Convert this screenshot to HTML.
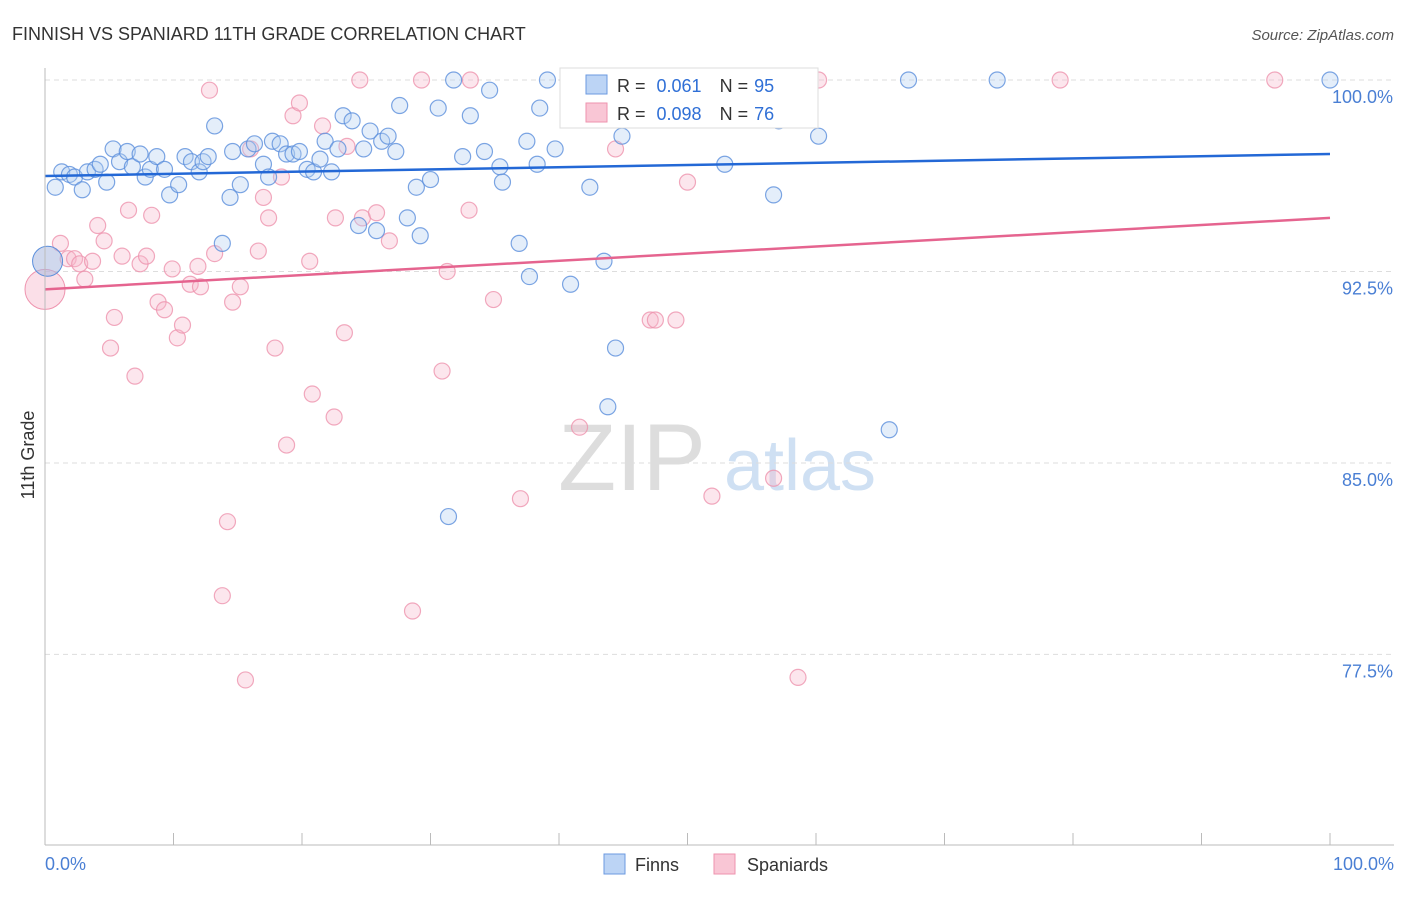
<!DOCTYPE html>
<html><head><meta charset="utf-8"><style>
body{margin:0;background:#fff;font-family:"Liberation Sans",sans-serif}
svg text{font-family:"Liberation Sans",sans-serif}
</style></head><body>
<svg width="1406" height="892" id="c">
<text x="12" y="40" font-size="18" fill="#333">FINNISH VS SPANIARD 11TH GRADE CORRELATION CHART</text>
<text x="1394" y="40" font-size="15" fill="#555" text-anchor="end" font-style="italic">Source: ZipAtlas.com</text>
<text x="632" y="490" font-size="95" fill="#ddd" font-family="Liberation Serif" text-anchor="middle">ZIP</text>
<text x="800" y="490" font-size="72" fill="#cfe0f3" text-anchor="middle">atlas</text>
<text transform="translate(34,455) rotate(-90)" font-size="18" fill="#333" text-anchor="middle">11th Grade</text>
<g id="grid"></g><g id="pts"></g><g id="lines"></g>
<line x1="45" y1="68" x2="45" y2="845" stroke="#bbb"/>
<line x1="45" y1="845" x2="1394" y2="845" stroke="#bbb"/>
<text x="45" y="870" font-size="18" fill="#4a7fd4">0.0%</text>
<text x="1394" y="870" font-size="18" fill="#4a7fd4" text-anchor="end">100.0%</text>
<g>
<rect x="560" y="68" width="258" height="60" fill="#fff" stroke="#ddd"/>
<rect x="586" y="75" width="21" height="19" fill="#bcd4f5" stroke="#6b9ae0"/>
<rect x="586" y="103" width="21" height="19" fill="#f9c6d5" stroke="#ee93ae"/>
<text x="617" y="92" font-size="18" fill="#333">R = <tspan fill="#2f6fd6" dx="6">0.061</tspan><tspan dx="18" fill="#333">N =</tspan><tspan dx="6" fill="#2f6fd6">95</tspan></text>
<text x="617" y="120" font-size="18" fill="#333">R = <tspan fill="#2f6fd6" dx="6">0.098</tspan><tspan dx="18" fill="#333">N =</tspan><tspan dx="6" fill="#2f6fd6">76</tspan></text>
</g>
<g><rect x="604" y="854" width="21" height="20" fill="#bcd4f5" stroke="#6b9ae0"/><text x="635" y="871" font-size="18" fill="#333">Finns</text></g>
<g><rect x="714" y="854" width="21" height="20" fill="#f9c6d5" stroke="#ee93ae"/><text x="747" y="871" font-size="18" fill="#333">Spaniards</text></g>
</svg>
<script>
const yTicks=[100,92.5,85,77.5];
const yTickLabels=["100.0%","92.5%","85.0%","77.5%"];
const xTicks=[0,10,20,30,40,50,60,70,80,90,100];
const finnsX=[0.8,1.3,1.9,2.3,2.9,3.3,3.9,4.3,4.8,5.3,5.8,6.4,6.8,7.4,7.8,8.2,8.7,9.3,9.7,10.4,10.9,11.4,12.0,12.3,12.7,13.2,13.8,14.4,14.6,15.2,15.8,16.3,17.0,17.4,17.7,18.3,18.8,19.3,19.8,20.4,20.9,21.4,21.8,22.3,22.8,23.2,23.9,24.4,24.8,25.3,25.8,26.2,26.7,27.3,27.6,28.2,28.9,29.2,30.0,30.6,31.8,32.5,33.1,34.2,34.6,35.4,35.6,36.9,37.5,37.7,38.5,38.3,39.1,39.7,40.9,42.4,43.5,44.4,43.8,44.9,31.4,51.8,52.9,55.8,56.7,57.1,59.0,60.2,65.7,67.2,74.1,100,40.7];
const finnsY=[95.8,96.4,96.3,96.2,95.7,96.4,96.5,96.7,96.0,97.3,96.8,97.2,96.6,97.1,96.2,96.5,97.0,96.5,95.5,95.9,97.0,96.8,96.4,96.8,97.0,98.2,93.6,95.4,97.2,95.9,97.3,97.5,96.7,96.2,97.6,97.5,97.1,97.1,97.2,96.5,96.4,96.9,97.6,96.4,97.3,98.6,98.4,94.3,97.3,98.0,94.1,97.6,97.8,97.2,99.0,94.6,95.8,93.9,96.1,98.9,100,97.0,98.6,97.2,99.6,96.6,96.0,93.6,97.6,92.3,98.9,96.7,100,97.3,92.0,95.8,92.9,89.5,87.2,97.8,82.9,98.7,96.7,100,95.5,98.4,100,97.8,86.3,100,100,100,100];
const spanX=[1.2,1.8,2.3,2.7,3.1,3.7,4.1,4.6,5.1,5.4,6.0,6.5,7.0,7.4,7.9,8.3,8.8,9.3,9.9,10.3,10.7,11.3,11.9,12.1,12.8,13.2,14.2,13.8,14.6,15.2,15.6,16.0,16.6,17.0,17.4,17.9,18.4,18.8,19.3,19.8,20.6,20.8,21.6,22.5,22.6,23.3,23.5,24.5,24.7,25.8,26.8,28.6,29.3,30.9,31.3,33.0,33.1,34.9,37.0,40.7,41.6,44.4,47.1,47.5,49.1,50.0,51.9,56.7,58.6,60.2,79.0,95.7,49.4];
const spanY=[93.6,93.0,93.0,92.8,92.2,92.9,94.3,93.7,89.5,90.7,93.1,94.9,88.4,92.8,93.1,94.7,91.3,91.0,92.6,89.9,90.4,92.0,92.7,91.9,99.6,93.2,82.7,79.8,91.3,91.9,76.5,97.3,93.3,95.4,94.6,89.5,96.2,85.7,98.6,99.1,92.9,87.7,98.2,86.8,94.6,90.1,97.4,100,94.6,94.8,93.7,79.2,100,88.6,92.5,94.9,100,91.4,83.6,100,86.4,97.3,90.6,90.6,90.6,96.0,83.7,84.4,76.6,100,100,100,100];
const bigX=[0.2,0];const bigY=[92.9,91.8];
const finnsTrend=[96.24,97.1];
const spanTrend=[91.8,94.6];
const X=v=>45+v*12.85, Y=v=>80+(100-v)*25.53;
const NS="http://www.w3.org/2000/svg";
function mk(t,a,p){const e=document.createElementNS(NS,t);for(const k in a)e.setAttribute(k,a[k]);p.appendChild(e);return e;}
const grid=document.getElementById('grid'),pts=document.getElementById('pts'),lines=document.getElementById('lines');
yTicks.forEach((v,i)=>{
 const l=mk('line',{x1:45,x2:1394,y1:Y(v),y2:Y(v),stroke:'#ddd','stroke-dasharray':'5,4'},grid);
 
 
 const t=mk('text',{x:1393,y:Y(v)+23,'font-size':18,fill:'#4a7fd4','text-anchor':'end'},grid);
 t.textContent=yTickLabels[i];
 
 
});
xTicks.forEach(v=>{
 const l=mk('line',{x1:X(v),x2:X(v),y1:833,y2:845,stroke:'#bbb'},grid);
 
 
});
function dots(xs,ys,fill,stroke,name,r){
 xs.forEach((x,i)=>{
  const c=mk('circle',{cx:X(x),cy:Y(ys[i]),r:r,fill:fill,'fill-opacity':0.35,stroke:stroke,'stroke-width':1.2,'stroke-opacity':0.8},pts);
  
  
 });
}
dots(spanX,spanY,'#f7b8cb','#ee93ae','spaniard-point',8);
dots(finnsX,finnsY,'#b3cdf2','#5b8fdc','finn-point',8);
const b1=mk('circle',{cx:X(bigX[1]),cy:Y(bigY[1]),r:20,fill:'#f7b8cb','fill-opacity':0.45,stroke:'#ee93ae'},pts);


const b0=mk('circle',{cx:X(bigX[0]),cy:Y(bigY[0]),r:15,fill:'#a9b8df','fill-opacity':0.55,stroke:'#5b8fdc'},pts);


const tf=mk('line',{x1:X(0),x2:X(100),y1:Y(finnsTrend[0]),y2:Y(finnsTrend[1]),stroke:'#2368d6','stroke-width':2.5},lines);


const ts=mk('line',{x1:X(0),x2:X(100),y1:Y(spanTrend[0]),y2:Y(spanTrend[1]),stroke:'#e5648f','stroke-width':2.5},lines);


</script>
</body></html>
